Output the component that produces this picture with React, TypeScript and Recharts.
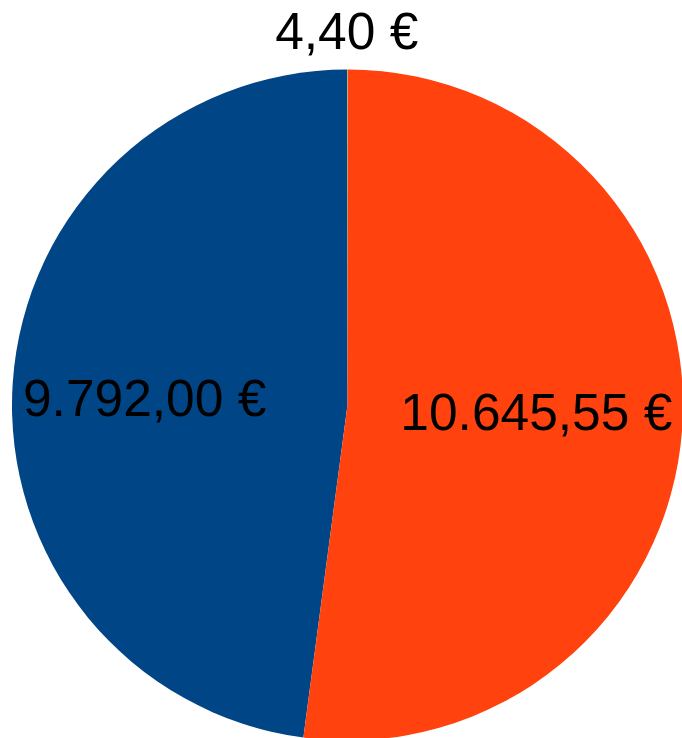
import { PieChart, Pie, Cell } from 'recharts';

const names = ['A', 'B', 'C'];
const values = [9792.0, 10645.55, 4.4];
const colors = ['#004586', '#ff420e', '#ffd320'];

const data = names.map((name, i) => ({ name, value: values[i] }));

const RAD = Math.PI / 180;

function formatEuro(v: number) {
  const [int, dec] = v.toFixed(2).split('.');
  const grouped = int.replace(/\B(?=(\d{3})+(?!\d))/g, '.');
  return `${grouped},${dec} €`;
}

function renderLabel(props: any) {
  const { cx, cy, midAngle, outerRadius, value } = props;
  const small = value < 100;
  const r = small ? outerRadius + 39 : outerRadius * 0.585;
  // inside labels sit a bit left and closer to the horizontal axis
  const x = cx + r * Math.cos(-midAngle * RAD) - (small ? 1 : 7);
  const y = cy + r * Math.sin(-midAngle * RAD) * (small ? 1 : 0.55);
  return (
    <text
      x={x}
      y={y}
      fill="#000"
      textAnchor="middle"
      dominantBaseline="central"
      style={{ fontFamily: '"Liberation Sans", Arial, sans-serif', fontSize: 51.5 }}
    >
      {formatEuro(value)}
    </text>
  );
}

export default function App() {
  return (
    <div style={{ position: 'absolute', left: 0, top: 0, width: 682, height: 738, background: '#fff' }}>
      <PieChart width={682} height={738} margin={{ top: 0, right: 0, bottom: 0, left: 0 }}>
        <Pie
          data={data}
          dataKey="value"
          nameKey="name"
          cx={347.5}
          cy={405}
          outerRadius={335.5}
          startAngle={90}
          endAngle={450}
          stroke="none"
          label={renderLabel}
          labelLine={false}
          isAnimationActive={false}
        >
          {data.map((d, i) => (
            <Cell key={d.name} fill={colors[i]} />
          ))}
        </Pie>
      </PieChart>
    </div>
  );
}
